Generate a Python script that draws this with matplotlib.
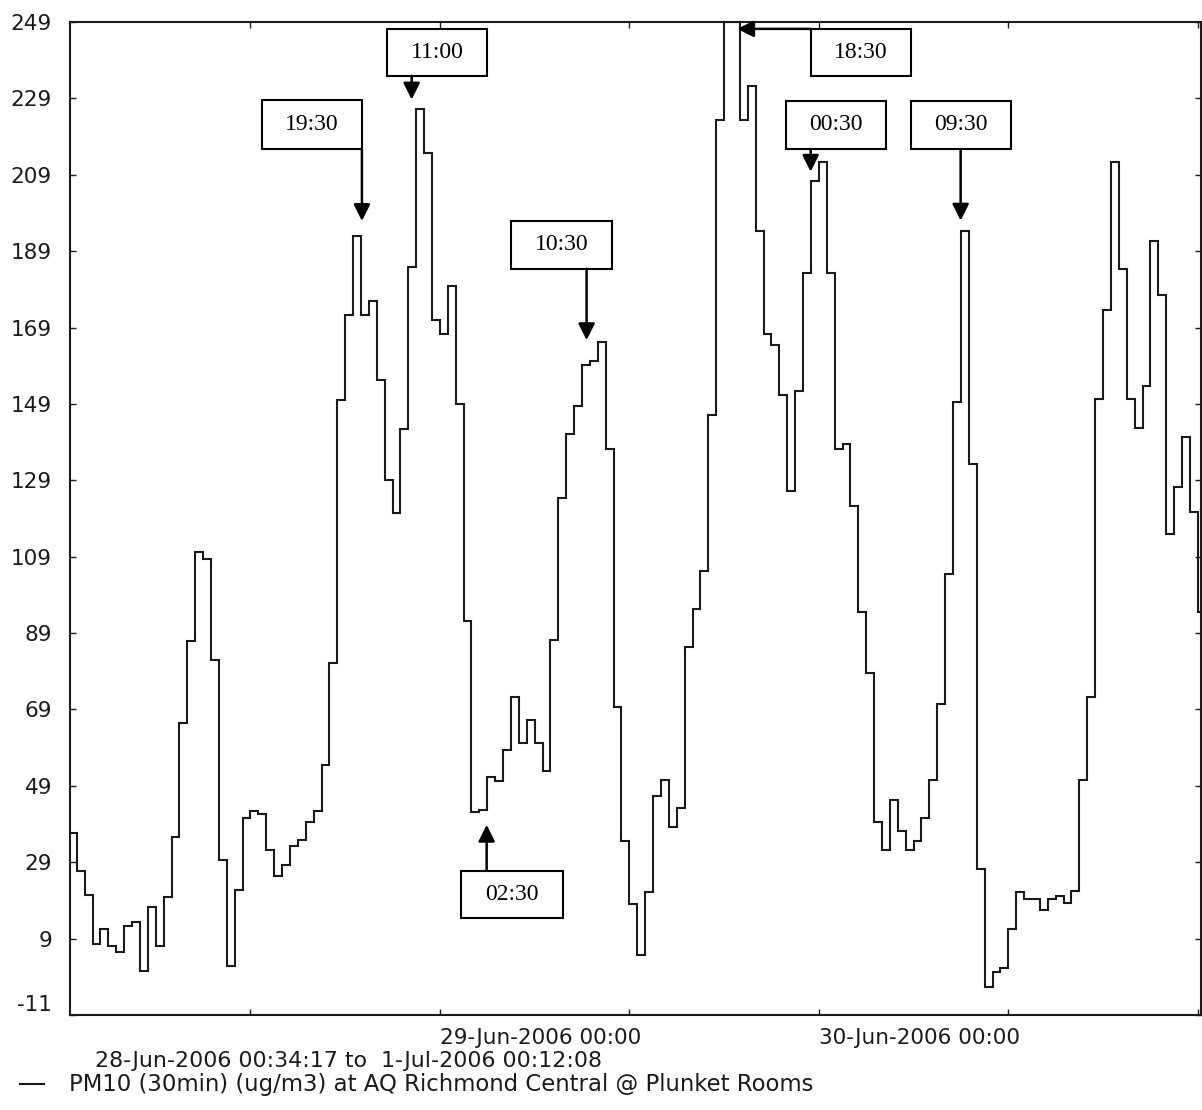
import numpy as np
import matplotlib.pyplot as plt
from matplotlib.patches import Rectangle

plt.rcParams['font.family'] = ['DejaVu Sans']

# PM10 30-minute averages, one value per half hour starting 28-Jun-2006 00:30
# x is in hours since 28-Jun-2006 00:00
pm10 = [
    36.6, 26.7, 20.5, 7.5, 11.6, 7.0, 5.6, 12.4, 13.3, 0.6,
    17.4, 7.0, 19.8, 35.6, 65.4, 87.0, 110.2, 108.5, 82.0, 29.7,
    1.7, 21.6, 40.5, 42.3, 41.6, 32.3, 25.5, 28.3, 33.2, 34.7,
    39.6, 42.4, 54.5, 81.2, 150.1, 172.3, 193.0, 172.3, 175.9, 155.2,
    129.2, 120.4, 142.4, 184.9, 226.1, 214.8, 170.9, 167.3, 179.9, 149.1,
    92.1, 42.2, 42.7, 51.2, 50.3, 58.5, 72.2, 60.3, 66.2, 60.2,
    53.0, 87.1, 124.3, 141.0, 148.4, 159.2, 160.3, 165.1, 137.2, 69.6,
    34.5, 18.1, 4.7, 21.3, 46.4, 50.5, 38.3, 43.1, 85.4, 95.4,
    105.3, 146.1, 223.3, 249.0, 249.0, 223.3, 232.3, 194.2, 167.4, 164.4,
    151.3, 126.2, 152.5, 183.4, 207.3, 212.4, 183.4, 137.1, 138.6, 122.2,
    94.5, 78.5, 39.5, 32.3, 45.4, 37.3, 32.3, 34.5, 40.5, 50.4,
    70.4, 104.4, 149.5, 194.2, 133.4, 27.2, -3.7, 0.3, 1.3, 11.4,
    21.2, 19.4, 19.4, 16.4, 19.4, 20.2, 18.2, 21.4, 50.4, 72.2,
    150.2, 173.5, 212.4, 184.2, 150.3, 142.6, 153.6, 191.6, 177.5, 115.0,
    127.2, 140.4, 120.8, 94.5,
]
edges = 0.5 + 0.5 * np.arange(len(pm10) + 1)

x_start = 34 / 60 + 17 / 3600          # 28-Jun-2006 00:34:17
x_end = 72 + 12 / 60 + 8 / 3600        # 1-Jul-2006 00:12:08

xtick_pos = [12, 24, 36, 48, 60, 72]
xtick_labels = ['', '29-Jun-2006 00:00', '', '30-Jun-2006 00:00', '', '']
ytick_pos = list(range(-11, 250, 20))

# label, box (left, bottom, right, top) in data units, arrow start, arrow tip
notes = [
    ('19:30', (12.73, 215.7, 19.06, 228.6), (19.06, 215.7), (19.06, 196.9)),
    ('11:00', (20.65, 234.9, 26.98, 247.2), (22.21, 234.9), (22.21, 228.7)),
    ('10:30', (28.50, 184.4, 34.88, 196.9), (33.29, 184.4), (33.29, 165.7)),
    ('02:30', (25.33, 14.3, 31.79, 26.8), (26.96, 26.8), (26.96, 38.8)),
    ('18:30', (47.48, 234.9, 53.81, 247.2), (47.48, 247.2), (42.83, 247.2)),
    ('00:30', (45.90, 215.7, 52.25, 228.4), (47.48, 215.7), (47.48, 209.8)),
    ('09:30', (53.81, 215.7, 60.14, 228.4), (56.98, 215.7), (56.98, 197.0)),
]

fig = plt.figure(figsize=(12.02, 11.10), dpi=100)
ax = fig.add_axes([70 / 1202, 95 / 1110, 1131 / 1202, 993 / 1110])

line = ax.stairs(pm10, edges, baseline=None, color='#1a1a1a', lw=1.5,
                 label='PM10 (30min) (ug/m3) at AQ Richmond Central @ Plunket Rooms')

ax.set_xlim(x_start, x_end)
ax.set_ylim(-11, 249)
ax.set_xticks(xtick_pos)
ax.set_xticklabels(xtick_labels, ha='left')
ax.set_yticks(ytick_pos)
ax.set_yticklabels([str(v) for v in ytick_pos])
ax.tick_params(direction='in', length=4, width=1, top=True, right=True,
               labelsize=15.5, colors='#1a1a1a')
ax.tick_params(axis='y', pad=13)
ax.tick_params(axis='x', pad=9)
ax.get_yticklabels()[0].set_verticalalignment('bottom')
for s in ax.spines.values():
    s.set_linewidth(1.5)
    s.set_color('#1a1a1a')

for label, (x0, y0, x1, y1), start, tip in notes:
    ax.add_patch(Rectangle((x0, y0), x1 - x0, y1 - y0, fill=False,
                           lw=1.5, ec='black', zorder=5))
    ax.text((x0 + x1) / 2, (y0 + y1) / 2, label, ha='center', va='center',
            family='Liberation Serif', fontsize=17, zorder=6)
    ax.annotate('', xy=tip, xytext=start,
                arrowprops=dict(arrowstyle='-|>,head_length=1.0,head_width=0.5',
                                mutation_scale=10, lw=1.8, color='black',
                                shrinkA=0, shrinkB=0), zorder=6)

fig.text(95 / 1202, 1 - 1061 / 1110, '28-Jun-2006 00:34:17 to  1-Jul-2006 00:12:08',
         fontsize=15.9, va='center', color='#1a1a1a')
fig.legend(handles=[line], loc='center left',
           bbox_to_anchor=(20 / 1202, 1 - 1085 / 1110), frameon=False,
           fontsize=16.4, handlelength=1.05, handletextpad=1.1,
           borderpad=0, borderaxespad=0, labelcolor='#1a1a1a')

fig.savefig('out.png', dpi=100)
